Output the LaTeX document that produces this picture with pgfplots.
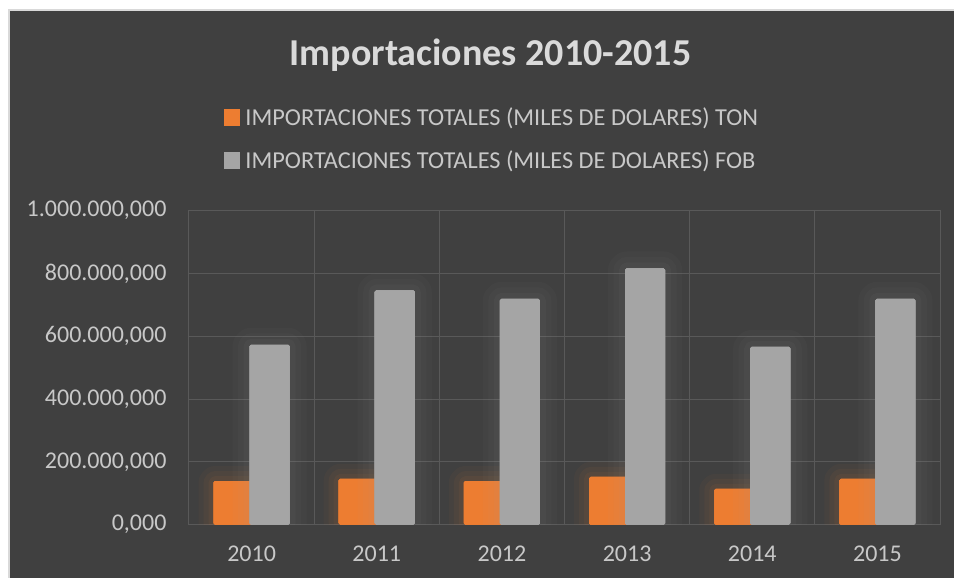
\documentclass[border=0pt]{standalone}
\usepackage{pgfplots}
\pgfplotsset{compat=1.18}
\usepackage{fontspec}
\setmainfont{Carlito}
\definecolor{bg}{HTML}{404040}
\definecolor{ton}{HTML}{ED7D31}
\definecolor{fob}{HTML}{A5A5A5}
\definecolor{gridc}{HTML}{595959}
\definecolor{txt}{HTML}{C8C8C8}
\definecolor{titlec}{HTML}{DADADA}
\definecolor{frame}{HTML}{D9D9D9}
\begin{document}
\begin{tikzpicture}[x=1pt,y=1pt]
\fill[white] (0,0) rectangle (954,578);
\fill[frame] (8,0) rectangle (954,569);
\fill[bg] (10,0) rectangle (954,567);
\node[anchor=base, text=titlec, font=\bfseries\fontsize{38}{44}\selectfont, inner sep=0pt] at (490.5,512) {Importaciones 2010-2015};
\begin{axis}[
  at={(189pt,53.3pt)}, anchor=south west,
  scale only axis, width=751pt, height=314pt,
  xmin=-0.5, xmax=5.5, ymin=0, ymax=1000000,
  xtick={0,1,2,3,4,5},
  xticklabels={2010,2011,2012,2013,2014,2015},
  minor xtick={-0.5,0.5,1.5,2.5,3.5,4.5,5.5},
  xminorgrids, ymajorgrids,
  major grid style={gridc, line width=1pt},
  minor grid style={gridc, line width=1pt},
  ytick={0,200000,400000,600000,800000,1000000},
  yticklabels={{0,000},{200.000,000},{400.000,000},{600.000,000},{800.000,000},{1.000.000,000}},
  major tick length=0pt, minor tick length=0pt,
  axis line style={gridc, line width=1pt},
  tick label style={font=\fontsize{24}{28}\selectfont, text=txt},
  yticklabel style={xshift=-19pt},
  xticklabel style={yshift=-18pt},
  scaled y ticks=false,
  ybar, bar width=0.3196,
  legend style={at={(0.047,1.328)}, anchor=north west, draw=none, fill=none,
    font=\fontsize{24.3}{28}\selectfont, text=txt, inner sep=0pt, row sep=24pt,
    nodes={inner sep=0pt},
    /tikz/every odd column/.append style={column sep=5pt}},
  legend cell align=left,
  legend image code/.code={\fill[#1] (0pt,-8pt) rectangle (16pt,9pt);},
]
\addlegendimage{fill=ton, draw=none}
\addlegendimage{fill=fob, draw=none}
\addplot[forget plot, fill=ton, draw=none, bar shift=-0.1438, rounded corners=1.5pt,
  preaction={draw=ton, draw opacity=0.04, line width=30pt, line join=round},
  preaction={draw=ton, draw opacity=0.05, line width=20pt, line join=round},
  preaction={draw=ton, draw opacity=0.06, line width=10pt, line join=round}]
  coordinates {(0,139000) (1,146000) (2,139000) (3,152000) (4,114000) (5,146000)};
\addplot[forget plot, fill=fob, draw=none, bar shift=0.1438, rounded corners=1.5pt,
  preaction={draw=fob, draw opacity=0.035, line width=34pt, line join=round},
  preaction={draw=fob, draw opacity=0.04, line width=23pt, line join=round},
  preaction={draw=fob, draw opacity=0.05, line width=12pt, line join=round}]
  coordinates {(0,573000) (1,746000) (2,719000) (3,816000) (4,566000) (5,719000)};
\legend{IMPORTACIONES TOTALES (MILES DE DOLARES) TON, IMPORTACIONES TOTALES (MILES DE DOLARES) FOB}
\end{axis}
\end{tikzpicture}
\end{document}
